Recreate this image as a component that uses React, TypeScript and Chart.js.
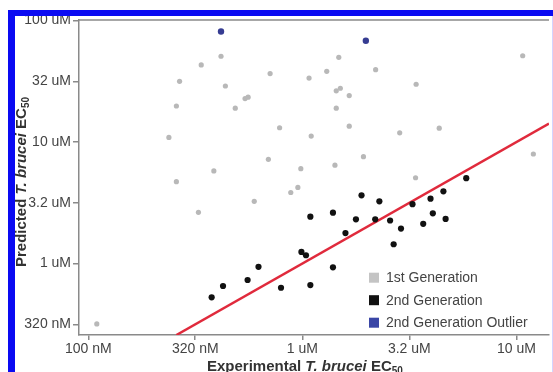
import React, { useEffect, useRef } from "react";
import { Chart, registerables } from "chart.js";

Chart.register(...registerables);

// ---- data (concentrations in uM) ----
const gen1X = [0.417, 0.337, 0.267, 0.437, 0.258, 0.486, 0.238, 0.386, 0.258, 1.48, 2.2, 0.707, 1.3, 1.075, 1.44, 1.505, 1.656, 0.54, 0.558, 1.44, 0.783, 1.656, 1.1, 0.694, 1.93, 0.984, 1.42, 2.85, 10.7, 3.4, 4.36, 12.0, 3.38, 0.327, 0.1096, 0.596, 0.883, 0.953];
const gen1Y = [50.8, 43.1, 31.6, 28.9, 19.8, 19.0, 10.9, 5.78, 4.72, 49.8, 39.4, 36.6, 38.2, 33.6, 26.4, 27.7, 24.1, 22.8, 23.4, 19.0, 13.1, 13.5, 11.2, 7.21, 7.57, 6.03, 6.45, 11.9, 51.3, 29.9, 13.0, 7.97, 5.08, 2.64, 0.318, 3.25, 3.84, 4.23];

const gen2X = [5.83, 4.56, 3.97, 3.27, 4.07, 4.67, 3.67, 2.89, 2.67, 2.57, 1.89, 2.29, 1.09, 1.39, 1.78, 2.19, 1.59, 0.99, 1.04, 0.624, 1.39, 0.555, 0.795, 1.09, 0.426, 0.377];
const gen2Y = [5.04, 3.93, 3.42, 3.08, 2.59, 2.33, 2.12, 1.94, 1.44, 2.26, 3.64, 3.25, 2.43, 2.62, 2.31, 2.31, 1.78, 1.245, 1.17, 0.94, 0.931, 0.732, 0.632, 0.664, 0.653, 0.527];

const outlierX = [0.417, 1.98];
const outlierY = [81.3, 68.2];

// identity line y = x, from the bottom of the y range to the right of the x range
const identityLine = [0.258, 14.2];

const xTickValues = [0.1, 0.316, 1, 3.16, 10];
const xTickLabels = ["100 nM", "320 nM", "1 uM", "3.2 uM", "10 uM"];
const yTickValues = [0.316, 1, 3.16, 10, 31.6, 100];
const yTickLabels = ["320 nM", "1 uM", "3.2 uM", "10 uM", "32 uM", "100 uM"];

const seriesLabels = ["1st Generation", "2nd Generation", "2nd Generation Outlier"];

// ---- styles ----
const FONT = "'Liberation Sans', Arial, Helvetica, sans-serif";
const AXIS = "#8a8a8a";
const TICK_TEXT = "#444444";
const GRAY = "#b8b8b8";
const BLACK = "#111111";
const NAVY = "#363c92";
const RED = "#e02a3c";

const pts = (xs: number[], ys: number[]) => xs.map((x, i) => ({ x, y: ys[i] }));

type Seg = { t: string; f: string; dy?: number };
function drawSegs(ctx: CanvasRenderingContext2D, segs: Seg[], x: number, y: number) {
  let cx = x;
  for (const s of segs) {
    ctx.font = s.f;
    ctx.fillText(s.t, cx, y + (s.dy || 0));
    cx += ctx.measureText(s.t).width;
  }
}

const titleSegs = (first: string): Seg[] => [
  { t: first + " ", f: `bold 15px ${FONT}` },
  { t: "T. brucei", f: `italic bold 15px ${FONT}` },
  { t: " EC", f: `bold 15px ${FONT}` },
  { t: "50", f: `bold 10px ${FONT}`, dy: 3 },
];

const decor = {
  id: "decor",
  beforeDraw(chart: any) {
    const ctx = chart.ctx as CanvasRenderingContext2D;
    ctx.save();
    ctx.fillStyle = "#ffffff";
    ctx.fillRect(0, 0, chart.width, chart.height);
    ctx.restore();
  },
  afterDraw(chart: any) {
    const ctx = chart.ctx as CanvasRenderingContext2D;
    const a = chart.chartArea;
    ctx.save();
    // top frame line
    ctx.strokeStyle = AXIS;
    ctx.lineWidth = 1.5;
    ctx.beginPath();
    ctx.moveTo(a.left, a.top);
    ctx.lineTo(a.right, a.top);
    ctx.stroke();

    // legend
    const ds = chart.data.datasets.filter((d: any) => d.legendColor);
    const lx = a.right - 180;
    const ly0 = a.bottom - 57.3;
    ctx.textBaseline = "middle";
    ctx.textAlign = "left";
    ctx.font = `14px ${FONT}`;
    ds.forEach((d: any, i: number) => {
      const cy = ly0 + i * 22.5;
      ctx.fillStyle = d.legendColor;
      ctx.fillRect(lx, cy - 5, 10, 10);
      ctx.fillStyle = TICK_TEXT;
      ctx.fillText(d.label, lx + 17, cy + 0.5);
    });

    // axis titles
    ctx.fillStyle = "#333333";
    ctx.textBaseline = "alphabetic";
    drawSegs(ctx, titleSegs("Experimental"), 207, 371);
    ctx.save();
    ctx.translate(26, 267);
    ctx.rotate(-Math.PI / 2);
    drawSegs(ctx, titleSegs("Predicted"), 0, 0);
    ctx.restore();

    // blue frame of the figure
    ctx.fillStyle = "#0a0af2";
    ctx.fillRect(8, 10, 7, chart.height - 10);
    ctx.fillRect(8, 10, chart.width - 8, 6);
    ctx.fillStyle = "#d4d4ff";
    ctx.fillRect(chart.width - 1, 16, 1, chart.height - 16);
    ctx.restore();
  },
};

export default function App() {
  const ref = useRef<HTMLCanvasElement>(null);

  useEffect(() => {
    const canvas = ref.current;
    if (!canvas) return;
    const chart = new Chart(canvas, {
      type: "scatter",
      data: {
        datasets: [
          {
            label: seriesLabels[0],
            data: pts(gen1X, gen1Y),
            backgroundColor: GRAY,
            borderWidth: 0,
            pointRadius: 2.6,
            order: 4,
            legendColor: "#c4c4c4",
          } as any,
          {
            label: "identity",
            data: pts(identityLine, identityLine),
            showLine: true,
            borderColor: RED,
            borderWidth: 2.5,
            pointRadius: 0,
            order: 3,
          } as any,
          {
            label: seriesLabels[1],
            data: pts(gen2X, gen2Y),
            backgroundColor: BLACK,
            borderWidth: 0,
            pointRadius: 3.1,
            order: 2,
            legendColor: BLACK,
          } as any,
          {
            label: seriesLabels[2],
            data: pts(outlierX, outlierY),
            backgroundColor: NAVY,
            borderWidth: 0,
            pointRadius: 3.2,
            order: 1,
            legendColor: "#3a46a6",
          } as any,
        ],
      },
      options: {
        responsive: false,
        animation: false,
        devicePixelRatio: 1,
        layout: { padding: { top: 20, right: 0, bottom: 0, left: 0 } },
        plugins: {
          legend: { display: false },
          tooltip: { enabled: false },
          title: { display: false },
        },
        scales: {
          x: {
            type: "logarithmic",
            min: 0.0905,
            max: 14.2,
            afterBuildTicks: (s: any) => {
              s.ticks = xTickValues.map((v) => ({ value: v }));
            },
            afterFit: (s: any) => {
              s.height = 37;
            },
            ticks: {
              callback: (_v: any, i: number) => xTickLabels[i],
              autoSkip: false,
              maxRotation: 0,
              minRotation: 0,
              padding: 1,
              color: TICK_TEXT,
              font: { family: FONT, size: 14 },
            },
            grid: {
              display: true,
              drawOnChartArea: false,
              drawTicks: true,
              tickLength: 5,
              color: AXIS,
              lineWidth: 1.5,
            },
            border: { display: true, color: AXIS, width: 1.5 },
          },
          y: {
            type: "logarithmic",
            min: 0.258,
            max: 101,
            afterBuildTicks: (s: any) => {
              s.ticks = yTickValues.map((v) => ({ value: v }));
            },
            afterFit: (s: any) => {
              s.width = 79;
            },
            ticks: {
              callback: (_v: any, i: number) => yTickLabels[i],
              autoSkip: false,
              padding: 2,
              color: TICK_TEXT,
              font: { family: FONT, size: 14 },
            },
            grid: {
              display: true,
              drawOnChartArea: false,
              drawTicks: true,
              tickLength: 6,
              color: AXIS,
              lineWidth: 1.5,
            },
            border: { display: true, color: AXIS, width: 1.5 },
          },
        },
      } as any,
      plugins: [decor as any],
    });
    return () => chart.destroy();
  }, []);

  return (
    <div style={{ position: "fixed", left: 0, top: 0, width: 553, height: 372, background: "#fff" }}>
      <canvas ref={ref} width={553} height={372} style={{ display: "block", width: 553, height: 372 }} />
    </div>
  );
}
